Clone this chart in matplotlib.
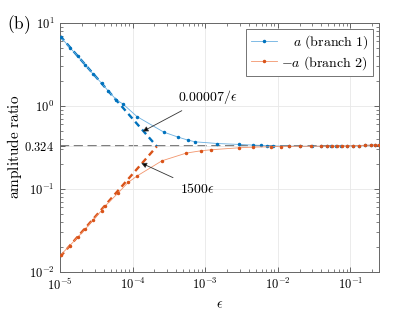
import numpy as np
import matplotlib
matplotlib.use('Agg')
from matplotlib import pyplot as plt
from matplotlib.ticker import FixedLocator, LogLocator, NullFormatter

plt.rcParams['mathtext.fontset'] = 'cm'
plt.rcParams['font.family'] = 'serif'
plt.rcParams['font.serif'] = ['DejaVu Serif']

# branch 1 (a)
eps1 = [1.03e-5, 1.37e-5, 1.75e-5, 2.25e-5, 2.87e-5, 3.74e-5, 4.61e-5, 6.01e-5,
        7.41e-5, 1.15e-4, 2.69e-4, 4.22e-4, 5.79e-4, 7.3e-4, 1.47e-3, 2.97e-3,
        4.5e-3, 5.9e-3, 7.2e-3, 8.5e-3, 1.45e-2, 2.0e-2, 3.0e-2, 4.0e-2, 4.7e-2,
        5.5e-2, 6.4e-2, 7.5e-2, 0.09, 0.11, 0.13, 0.16, 0.19, 0.22, 0.25]
amp1 = [6.73, 5.04, 4.0, 3.12, 2.41, 1.88, 1.52, 1.18,
        1.05, 0.743, 0.482, 0.420, 0.386, 0.368, 0.351, 0.342,
        0.336, 0.333, 0.330, 0.328, 0.326, 0.325, 0.325, 0.325, 0.325,
        0.326, 0.326, 0.327, 0.328, 0.329, 0.331, 0.333, 0.335, 0.337, 0.339]

# branch 2 (-a)
eps2 = [1.03e-5, 1.37e-5, 1.75e-5, 2.25e-5, 2.87e-5, 3.74e-5, 4.15e-5, 6.33e-5,
        8.69e-5, 1.17e-4, 2.54e-4, 5.5e-4, 8.8e-4, 1.21e-3, 2.97e-3, 4.5e-3,
        8.2e-3, 1.11e-2, 1.45e-2, 2.0e-2, 2.9e-2, 4.0e-2, 4.7e-2, 5.6e-2,
        6.6e-2, 7.8e-2, 0.09, 0.11, 0.13, 0.16, 0.19, 0.22, 0.25]
amp2 = [0.0160, 0.0206, 0.0259, 0.0327, 0.0423, 0.0543, 0.0612, 0.0888,
        0.119, 0.1435, 0.217, 0.269, 0.287, 0.295, 0.312, 0.317,
        0.321, 0.323, 0.324, 0.325, 0.325, 0.326, 0.326, 0.327,
        0.327, 0.328, 0.329, 0.330, 0.332, 0.334, 0.336, 0.338, 0.341]

# asymptotes: 0.00007/eps and 1500*eps, up to where they meet at 0.324
eps_fit = [1e-5, 2.16e-4]
fit1 = [7.0, 0.324]
fit2 = [0.015, 0.324]
level = 0.324

blue, blue_l = '#0072BD', '#6AAFE0'
red, red_l = '#D95319', '#F2956C'

fig = plt.figure(figsize=(4.19, 3.14), dpi=100)
ax = fig.add_axes([0.143, 0.135, 0.762, 0.792])

ax.plot(eps1, amp1, '-', color=blue_l, lw=0.6, marker='o', ms=1.5,
        mfc=blue, mec=blue, label=r'$\ \ \ a\ \mathrm{(branch\ 1)}$', zorder=3)
ax.plot(eps2, amp2, '-', color=red_l, lw=0.6, marker='o', ms=1.5,
        mfc=red, mec=red, label=r'$-a\ \mathrm{(branch\ 2)}$', zorder=3)
ax.plot(eps_fit, fit1, color=blue, lw=1.7, dashes=(2.6, 1.8), zorder=2)
ax.plot(eps_fit, fit2, color=red, lw=1.7, dashes=(2.6, 1.8), zorder=2)
ax.axhline(level, color='0.35', lw=1.1, dashes=(6, 3), zorder=1)

ax.set_xscale('log')
ax.set_yscale('log')
ax.set_xlim(1e-5, 0.25)
ax.set_ylim(1e-2, 10)

ax.xaxis.set_major_locator(FixedLocator([1e-5, 1e-4, 1e-3, 1e-2, 1e-1]))
ax.set_xticklabels([r'$10^{-5}$', r'$10^{-4}$', r'$10^{-3}$', r'$10^{-2}$', r'$10^{-1}$'])
ax.yaxis.set_major_locator(FixedLocator([1e-2, 1e-1, level, 1, 10]))
ax.set_yticklabels([r'$10^{-2}$', r'$10^{-1}$', r'$0.324$', r'$10^{0}$', r'$10^{1}$'])
ax.xaxis.set_minor_locator(LogLocator(subs=np.arange(2, 10), numticks=20))
ax.yaxis.set_minor_locator(LogLocator(subs=np.arange(2, 10), numticks=20))
ax.xaxis.set_minor_formatter(NullFormatter())
ax.yaxis.set_minor_formatter(NullFormatter())
ax.tick_params(which='both', direction='in', top=True, right=True, color='0.3',
               labelsize=9)
ax.tick_params(which='major', length=3.5, width=0.6, pad=4)
ax.tick_params(which='minor', length=2, width=0.5)
ax.grid(True, which='major', color='0.91', lw=0.6)
for s in ax.spines.values():
    s.set_color('0.4')
    s.set_linewidth(0.7)

ax.set_xlabel(r'$\epsilon$', fontsize=10, labelpad=3)
ax.set_ylabel(r'$\mathrm{amplitude\ ratio}$', fontsize=11, labelpad=0)

ax.annotate(r'$0.00007/\epsilon$', xy=(1.38e-4, 0.49), xytext=(4.2e-4, 1.28),
            fontsize=10, va='center', ha='left',
            arrowprops=dict(arrowstyle='-|>', color='0.35', lw=0.6,
                            mutation_scale=8, shrinkA=3, shrinkB=0,
                            fc='k', ec='0.2'))
ax.annotate(r'$1500\epsilon$', xy=(1.32e-4, 0.204), xytext=(4.45e-4, 0.1),
            fontsize=10, va='center', ha='left',
            arrowprops=dict(arrowstyle='-|>', color='0.35', lw=0.6,
                            mutation_scale=8, shrinkA=3, shrinkB=0,
                            fc='k', ec='0.2'))

leg = ax.legend(loc='upper right', fontsize=10, fancybox=False,
                edgecolor='0.45', framealpha=1, borderaxespad=0.45,
                handlelength=1.9, borderpad=0.3, labelspacing=0.2,
                handletextpad=0.3)
leg.get_frame().set_linewidth(0.7)

fig.text(0.016, 0.92, r'$\mathrm{(b)}$', fontsize=12.5, va='center', ha='left')

fig.savefig('out.png', dpi=100)
